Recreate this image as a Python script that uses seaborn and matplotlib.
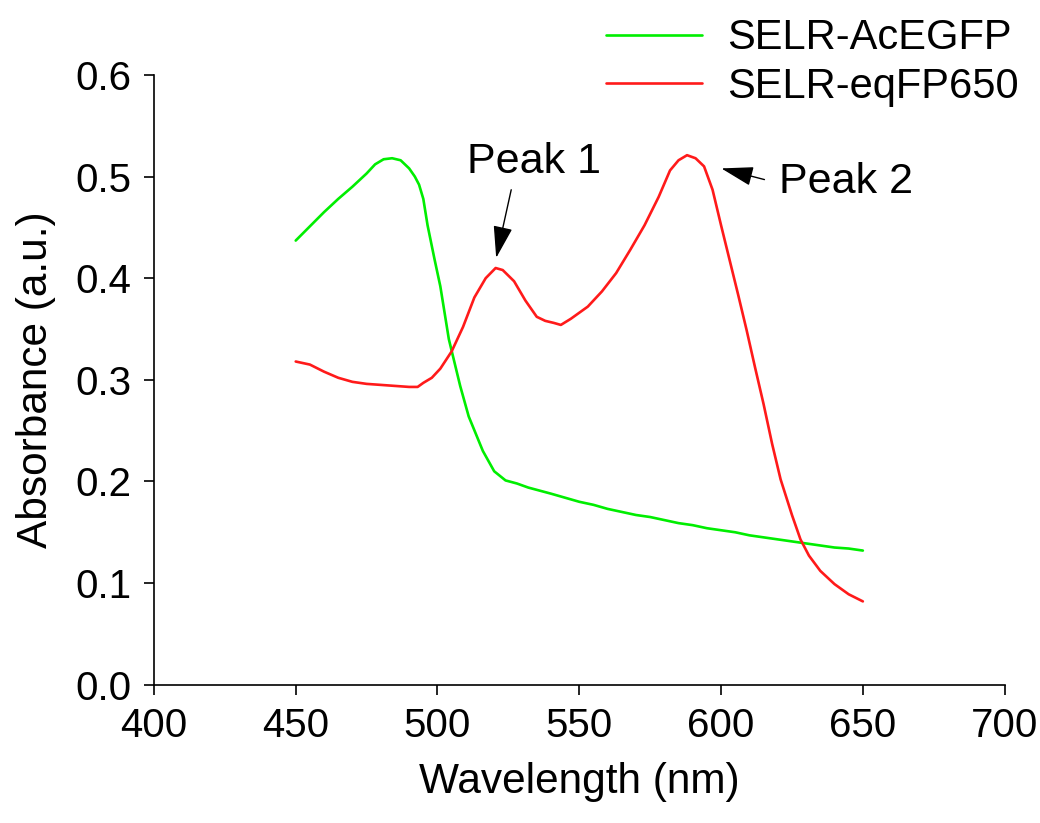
import numpy as np
import pandas as pd
import matplotlib
matplotlib.use("Agg")
import matplotlib.pyplot as plt
import seaborn as sns

# SELR-AcEGFP absorbance
wl_green = [450, 455, 460, 465, 470, 475, 478, 481, 484, 487, 490, 492, 493.5, 495, 496.5, 499,
            501, 504, 508, 511, 516, 520, 524, 528, 532, 536, 540, 545, 550, 555, 560,
            565, 570, 575, 580, 585, 590, 595, 600, 605, 610, 615, 620, 625, 630, 635,
            640, 645, 650]
abs_green = [0.437, 0.451, 0.465, 0.478, 0.490, 0.503, 0.512, 0.517, 0.518, 0.516, 0.508, 0.500,
             0.492, 0.478, 0.452, 0.418, 0.392, 0.340, 0.294, 0.264, 0.230, 0.210, 0.201, 0.198,
             0.194, 0.191, 0.188, 0.184, 0.180, 0.177, 0.173, 0.170, 0.167, 0.165, 0.162, 0.159,
             0.157, 0.154, 0.152, 0.150, 0.147, 0.145, 0.143, 0.141, 0.139, 0.137, 0.135, 0.134,
             0.132]

# SELR-eqFP650 absorbance
wl_red = [450, 455, 460, 465, 470, 475, 480, 485, 490, 493, 495, 498, 501, 505, 509, 513,
          517, 520.5, 523, 527, 531, 535, 538, 541, 543.5, 547, 553, 558, 563, 568, 573,
          578, 582, 585, 588, 591, 594, 597, 600, 603, 606, 609, 612, 615, 618, 621, 625,
          628, 631, 635, 640, 645, 650]
abs_red = [0.318, 0.315, 0.308, 0.302, 0.298, 0.296, 0.295, 0.294, 0.293, 0.293, 0.297, 0.302,
           0.311, 0.328, 0.352, 0.381, 0.400, 0.410, 0.408, 0.397, 0.378, 0.362, 0.358, 0.356,
           0.354, 0.360, 0.372, 0.387, 0.405, 0.428, 0.452, 0.480, 0.506, 0.516, 0.521, 0.518,
           0.510, 0.487, 0.452, 0.418, 0.384, 0.349, 0.312, 0.276, 0.237, 0.202, 0.167, 0.143,
           0.127, 0.112, 0.099, 0.089, 0.082]

sns.set_style("ticks")
plt.rcParams['font.family'] = ['Liberation Sans', 'DejaVu Sans']
plt.rcParams['text.color'] = 'black'
plt.rcParams['axes.labelcolor'] = 'black'
plt.rcParams['xtick.color'] = 'black'
plt.rcParams['ytick.color'] = 'black'

fig = plt.figure(figsize=(10.4, 8.23), dpi=100)
ax = fig.add_axes([0.148, 0.168, 0.818, 0.741])

sns.lineplot(x=wl_green, y=abs_green, ax=ax, color="#00ee00", linewidth=1.9, label="SELR-AcEGFP")
sns.lineplot(x=wl_red, y=abs_red, ax=ax, color="#ff1a1a", linewidth=1.9, label="SELR-eqFP650")

ax.set_xlim(400, 700)
ax.set_ylim(0, 0.6)
ax.set_xticks(np.arange(400, 701, 50))
ax.set_yticks(np.arange(0, 0.61, 0.1))
ax.set_yticklabels([f"{v:.1f}" for v in np.arange(0, 0.61, 0.1)])
ax.tick_params(labelsize=29, length=7, width=1.2, direction="out", pad=9)
ax.set_xlabel("Wavelength (nm)", fontsize=30.5, labelpad=12)
ax.set_ylabel("Absorbance (a.u.)", fontsize=30.5, labelpad=14)
for s in ["left", "bottom"]:
    ax.spines[s].set_color("black")
    ax.spines[s].set_linewidth(1.2)
ax.spines['top'].set_visible(False)
ax.spines['right'].set_visible(False)

ax.legend(loc="upper right", bbox_to_anchor=(1.036, 1.12), frameon=False, fontsize=30,
          handlelength=2.3, handletextpad=0.6, labelspacing=0.2, borderaxespad=0)

arrow = dict(arrowstyle="-|>,head_length=1.0,head_width=0.3", color="black", lw=1.0, mutation_scale=20,
             shrinkA=0, shrinkB=0)
ax.text(534, 0.514, "Peak 1", fontsize=31, ha="center", va="center")
ax.annotate("", xy=(520.7, 0.420), xytext=(526, 0.487), arrowprops=arrow)
ax.text(644, 0.495, "Peak 2", fontsize=31, ha="center", va="center")
ax.annotate("", xy=(600.1, 0.508), xytext=(615.3, 0.497), arrowprops=arrow)

plt.savefig("out.png", dpi=100)
